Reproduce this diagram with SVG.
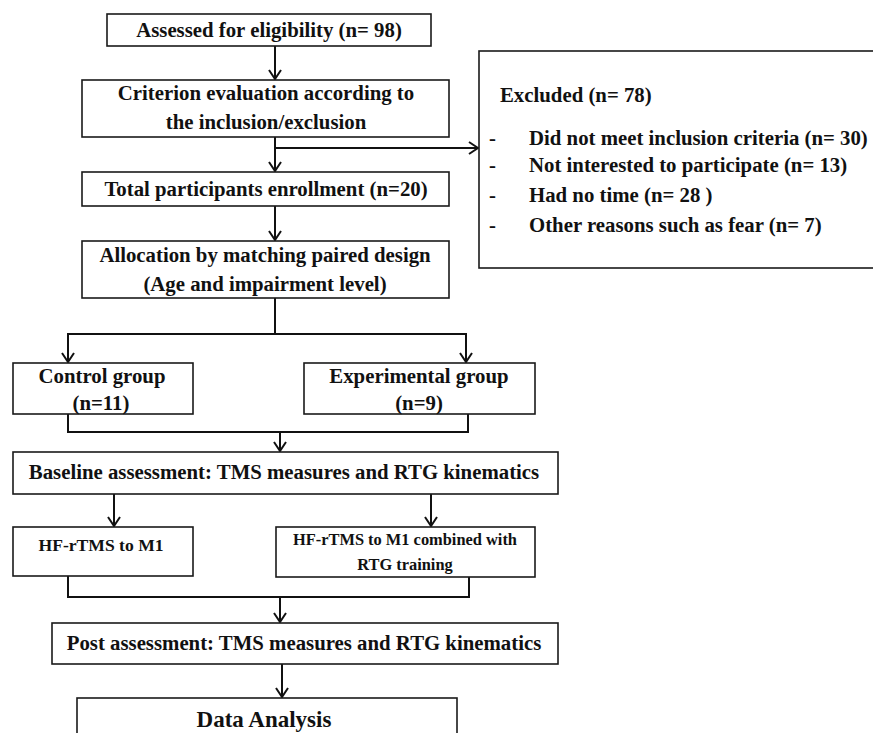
<svg xmlns="http://www.w3.org/2000/svg" width="873" height="733" viewBox="0 0 873 733">
<defs>
<marker id="arr" viewBox="0 0 12 14" refX="11" refY="7" markerWidth="12" markerHeight="14" markerUnits="userSpaceOnUse" orient="auto">
<path d="M2,1 L11,7 L2,13" fill="none" stroke="#111" stroke-width="2"/>
</marker>
</defs>
<style>
.box{fill:#fff;stroke:#1a1a1a;stroke-width:1.6}
.t{font-family:"Liberation Serif","Times New Roman",serif;font-weight:bold;font-size:20.8px;fill:#111;text-anchor:middle}
.s{font-size:16.4px}
.m{font-size:17.6px}
.l{text-anchor:start}
.c{fill:none;stroke:#111;stroke-width:2}
</style>
<rect width="873" height="733" fill="#fff"/>
<g id="connectors">
<line class="c" x1="275" y1="46" x2="275" y2="79" marker-end="url(#arr)"/>
<line class="c" x1="275" y1="137" x2="275" y2="171" marker-end="url(#arr)"/>
<line class="c" x1="275" y1="148" x2="478" y2="148" marker-end="url(#arr)"/>
<line class="c" x1="275" y1="206" x2="275" y2="240" marker-end="url(#arr)"/>
<line class="c" x1="275" y1="298" x2="275" y2="334"/>
<path class="c" d="M68,362 L68,334 L466,334 L466,362"/>
<line class="c" x1="68" y1="334" x2="68" y2="362" marker-end="url(#arr)"/>
<line class="c" x1="466" y1="334" x2="466" y2="362" marker-end="url(#arr)"/>
<path class="c" d="M68,414 L68,432 L468,432 L468,414"/>
<line class="c" x1="280" y1="432" x2="280" y2="451" marker-end="url(#arr)"/>
<line class="c" x1="114" y1="494" x2="114" y2="526" marker-end="url(#arr)"/>
<line class="c" x1="431" y1="494" x2="431" y2="526" marker-end="url(#arr)"/>
<path class="c" d="M68,576 L68,597 L469,597 L469,577"/>
<line class="c" x1="280" y1="597" x2="280" y2="622" marker-end="url(#arr)"/>
<line class="c" x1="282" y1="664" x2="282" y2="697" marker-end="url(#arr)"/>
</g>
<g id="assessed">
<rect class="box" x="107" y="14" width="324" height="32"/>
<text class="t" x="269" y="37">Assessed for eligibility (n= 98)</text>
</g>
<g id="criterion">
<rect class="box" x="82" y="80" width="367" height="57"/>
<text class="t" x="266" y="100">Criterion evaluation according to</text>
<text class="t" x="266" y="129">the inclusion/exclusion</text>
</g>
<g id="excluded">
<rect class="box" x="479" y="51" width="410" height="217"/>
<text class="t l" x="500" y="102">Excluded (n= 78)</text>
<text class="t l" x="489" y="145">-</text>
<text class="t l" x="529" y="145">Did not meet inclusion criteria (n= 30)</text>
<text class="t l" x="489" y="172">-</text>
<text class="t l" x="529" y="172">Not interested to participate (n= 13)</text>
<text class="t l" x="489" y="202">-</text>
<text class="t l" x="529" y="202">Had no time (n= 28 )</text>
<text class="t l" x="489" y="232">-</text>
<text class="t l" x="529" y="232">Other reasons such as fear (n= 7)</text>
</g>
<g id="enrollment">
<rect class="box" x="82" y="172" width="367" height="34"/>
<text class="t" x="266" y="196">Total participants enrollment (n=20)</text>
</g>
<g id="allocation">
<rect class="box" x="82" y="241" width="367" height="57"/>
<text class="t" x="265" y="262">Allocation by matching paired design</text>
<text class="t" x="265" y="291">(Age and impairment level)</text>
</g>
<g id="control">
<rect class="box" x="13" y="363" width="180" height="51"/>
<text class="t" x="102" y="383">Control group</text>
<text class="t" x="101" y="410">(n=11)</text>
</g>
<g id="experimental">
<rect class="box" x="304" y="363" width="231" height="51"/>
<text class="t" x="419" y="383">Experimental group</text>
<text class="t" x="419" y="410">(n=9)</text>
</g>
<g id="baseline">
<rect class="box" x="13" y="452" width="545" height="42"/>
<text class="t" x="284" y="479">Baseline assessment: TMS measures and RTG kinematics</text>
</g>
<g id="hf-rtms">
<rect class="box" x="13" y="527" width="180" height="49"/>
<text class="t m" x="101" y="551">HF-rTMS  to M1</text>
</g>
<g id="hf-rtms-rtg">
<rect class="box" x="276" y="527" width="259" height="50"/>
<text class="t s" x="405" y="545">HF-rTMS to M1 combined with</text>
<text class="t s" x="405" y="570">RTG training</text>
</g>
<g id="post">
<rect class="box" x="52" y="623" width="506" height="41"/>
<text class="t" x="304" y="650">Post assessment: TMS measures and RTG kinematics</text>
</g>
<g id="analysis">
<rect class="box" x="77" y="698" width="380" height="50"/>
<text class="t" x="264" y="727" style="font-size:23px">Data Analysis</text>
</g>
</svg>
